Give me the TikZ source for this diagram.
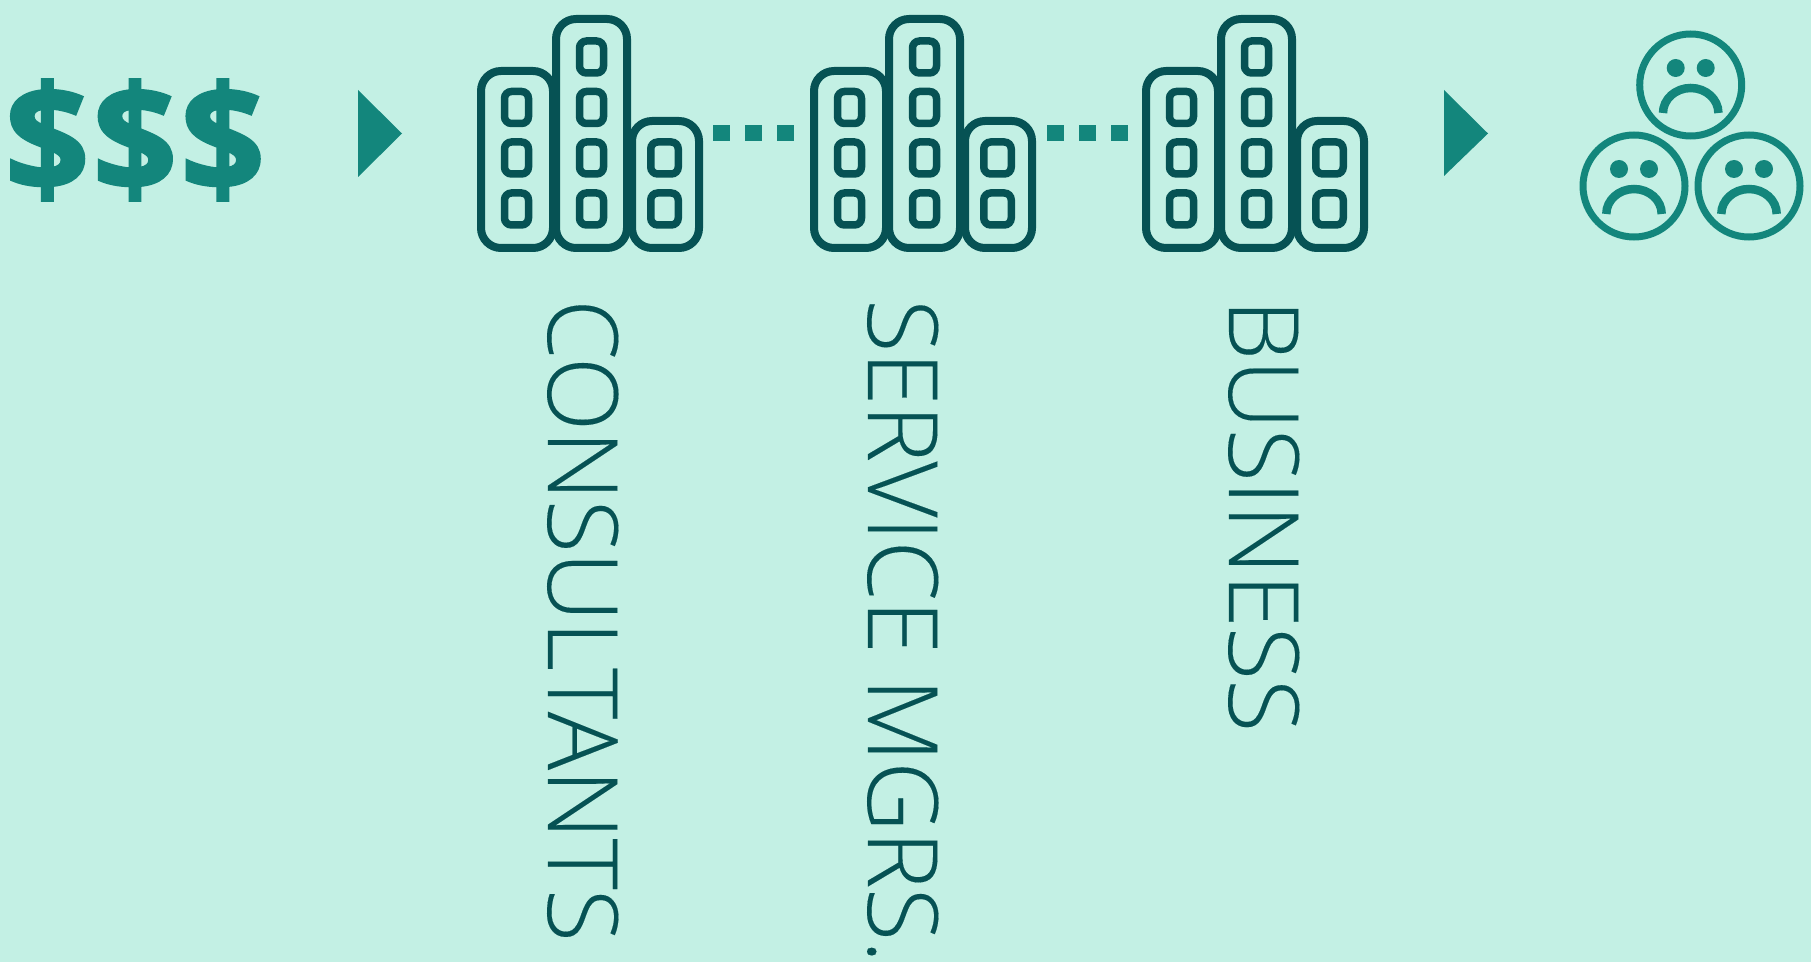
\documentclass[tikz,border=0pt]{standalone}
\usepackage{fontspec}
\setmainfont{Open Sans}
\newfontfamily\lightfont[LetterSpace=-0.8,FakeBold=0.12]{Open Sans Light}
\newfontfamily\heavyfont[FakeBold=2,LetterSpace=2.4]{Open Sans}
\usepackage{xcolor}
\usetikzlibrary{positioning}
\definecolor{bgmint}{HTML}{C3F0E4}
\definecolor{darkteal}{HTML}{065254}
\definecolor{midteal}{HTML}{13867C}
\newcommand{\pxu}{0.03cm}

\begin{document}
\begin{tikzpicture}[
	x=0.03cm, y=-0.03cm,
	tower/.style 2 args = {rectangle, draw=darkteal, line width=8*\pxu, rounded corners=20*\pxu, inner sep=0pt, outer sep=0pt, minimum width=#1*\pxu, minimum height=#2*\pxu, anchor=south},
	window/.style = {rectangle, draw=darkteal, line width=7.5*\pxu, rounded corners=7*\pxu, inner sep=0pt, minimum height=32*\pxu},
	dotline/.style = {draw=midteal, line width=16*\pxu, dash pattern=on 17*\pxu off 15*\pxu},
	pointer/.style = {fill=midteal},
	face/.style = {circle, draw=midteal, line width=7*\pxu, inner sep=0pt, minimum size=102*\pxu},
	eye/.style = {circle, fill=midteal, inner sep=0pt, minimum size=18*\pxu},
	vlabel/.style = {rotate=-90, anchor=base west, inner sep=0pt, text=darkteal, font=\lightfont\fontsize{83}{83}\selectfont},
	building/.pic = {
		\node[tower={72}{177}] (-left) at (517,248) {};
		\node[tower={67}{127}] (-right) at (665.5,248) {};
		\node[tower={71}{229}] (-mid) at (591.5,248) {};
		\foreach \y in {107.5,158,209}
			\node[window, minimum width=24*\pxu] at (516.5,\y) {};
		\foreach \y in {57,107.5,158,209}
			\node[window, minimum width=24*\pxu] at (591.5,\y) {};
		\foreach \y in {158,209}
			\node[window, minimum width=27.5*\pxu] at (664.5,\y) {};
	},
	sadface/.pic = {
		\node[face] (-head) at (0,0) {};
		\node[eye] (-eyeL) at (-15,-17) {};
		\node[eye] (-eyeR) at (15,-17) {};
		\draw[midteal, line width=8.5*\pxu] (-27.7,28) arc[start angle=180, end angle=360, x radius=27.7, y radius=25];
	}
]
\fill[bgmint] (0,0) rectangle (1811,962);
\useasboundingbox (0,0) rectangle (1811,962);

\node[text=midteal, font=\heavyfont\bfseries\fontsize{126}{126}\selectfont, inner sep=0pt, anchor=center] (money) at (135,140) {\$\$\$};

\fill[pointer] (358,90) -- (402,133.5) -- (358,177) -- cycle;
\fill[pointer] (1444,90) -- (1488,133.5) -- (1444,176) -- cycle;

% three buildings
\pic (one) at (0,0) {building};
\pic (two) at (333,0) {building};
\pic (three) at (665,0) {building};

\coordinate (dotsA) at (713,133);
\coordinate (dotsB) at (794,133);
\coordinate (dotsC) at (1047,133);
\coordinate (dotsD) at (1128,133);
\draw[dotline] (dotsA) -- (dotsB);
\draw[dotline] (dotsC) -- (dotsD);

\node[vlabel] (consultants) at (548,299) {CONSULTANTS};
\node[vlabel] (managers) at (868,299) {SERVICE MGRS.};
\node[vlabel] (business) at (1229,299) {BUSINESS};

\pic (faceT) at (1690.7,85) {sadface};
\pic (faceL) at (1634,186) {sadface};
\pic (faceR) at (1749,186) {sadface};
\end{tikzpicture}
\end{document}
